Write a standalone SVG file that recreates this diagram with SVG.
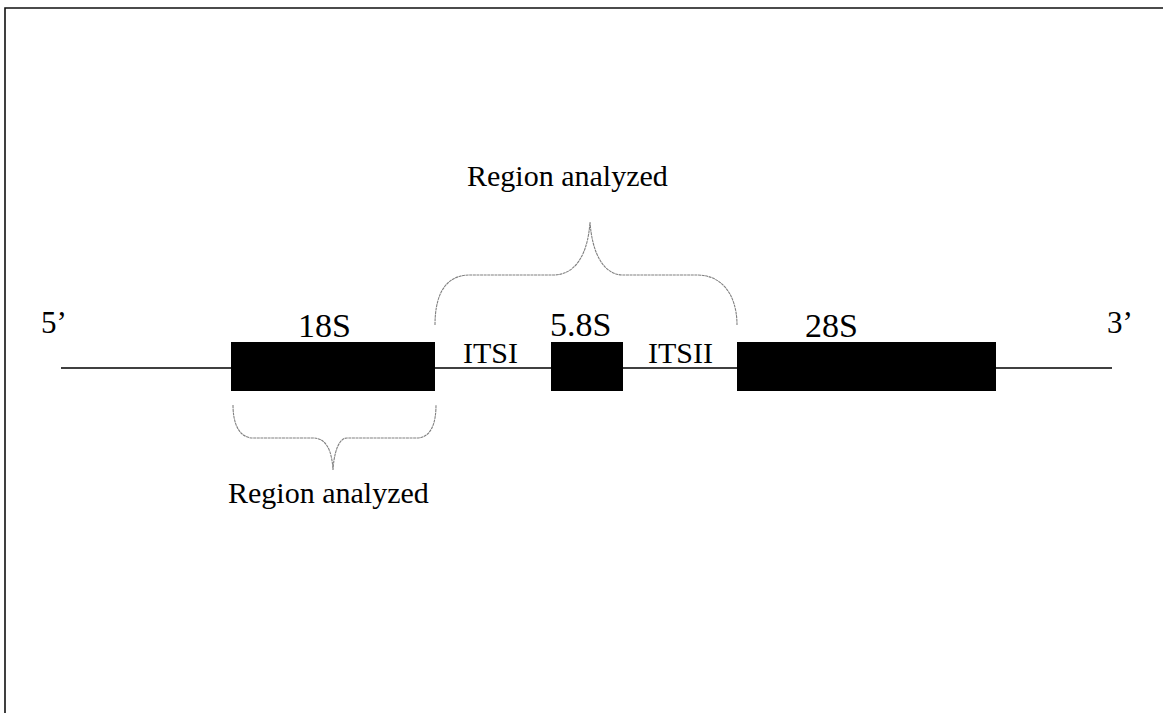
<svg xmlns="http://www.w3.org/2000/svg" width="1163" height="713" viewBox="0 0 1163 713">
<style>
.lbl{font-family:"Liberation Serif","Times New Roman",serif;fill:#000}
.gene{font-size:34px}
.its{font-size:30px}
.end{font-size:31px}
.ra{font-size:30px}
.box{fill:#000}
.brace{fill:none;stroke:#808080;stroke-width:1.1;stroke-dasharray:3 0.6}
</style>
<rect width="1163" height="713" fill="#fff"/>
<path d="M5,713 L5,8 L1163,8" fill="none" stroke="#111" stroke-width="1.6"/>
<g id="connectors">
<line x1="61" y1="368" x2="1112" y2="368" stroke="#000" stroke-width="1.6"/>
</g>
<g id="end5"><text class="lbl end" x="41" y="333">5’</text></g>
<g id="end3"><text class="lbl end" x="1107" y="333">3’</text></g>
<g id="n18S"><rect class="box" x="231" y="342" width="204" height="49"/><text class="lbl gene" x="298" y="337">18S</text></g>
<g id="n58S"><rect class="box" x="551" y="342" width="72" height="49"/><text class="lbl gene" x="550" y="336">5.8S</text></g>
<g id="n28S"><rect class="box" x="737" y="342" width="259" height="49"/><text class="lbl gene" x="805" y="337">28S</text></g>
<g id="itsI"><text class="lbl its" x="463" y="363">ITSI</text></g>
<g id="itsII"><text class="lbl its" x="648" y="363">ITSII</text></g>
<g id="braceTop">
<path class="brace" d="M435,325 C435,295 445,275 470,275 L553,275 C577,275 588,252 590,222 C592,252 603,275 623,275 L697,275 C722,275 737,295 737,325"/>
<text class="lbl ra" x="467" y="186">Region analyzed</text>
</g>
<g id="braceBottom">
<path class="brace" d="M233,405 C233,425 240,438 253,438 L313,438 C327,438 332,452 333,470 C334,452 339,438 347,438 L417,438 C430,438 436,425 436,405"/>
<text class="lbl ra" x="228" y="503">Region analyzed</text>
</g>
</svg>
